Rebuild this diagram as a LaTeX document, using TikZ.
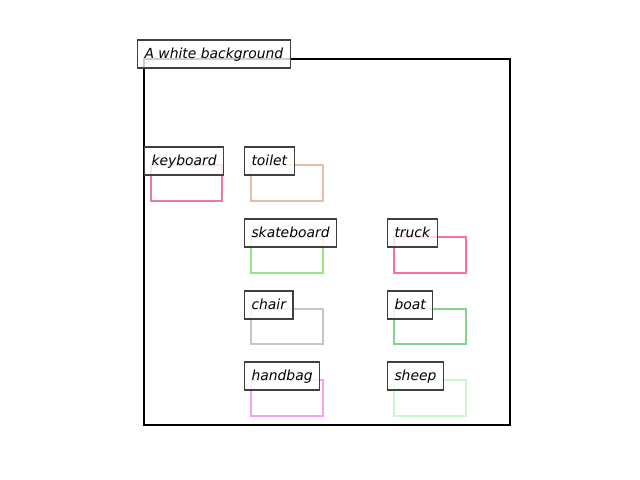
\documentclass[tikz,border=0pt]{standalone}
\usepackage{fontspec}
\setmainfont{DejaVu Sans}
\definecolor{kbcol}{HTML}{F07A9C}
\definecolor{tlcol}{HTML}{E8BEA6}
\definecolor{skcol}{HTML}{96E67E}
\definecolor{trcol}{HTML}{FF7094}
\definecolor{chcol}{HTML}{C2CAC2}
\definecolor{btcol}{HTML}{82D48A}
\definecolor{hbcol}{HTML}{F2A0F8}
\definecolor{shcol}{HTML}{CAF8CA}
\begin{document}
\begin{tikzpicture}[x=0.72pt,y=-0.72pt,
    tag/.style={draw=black!75,line width=0.8pt,fill=white,fill opacity=0.8,text opacity=1,
      anchor=south west,inner xsep=5pt,inner ysep=5pt,text height=8.3pt,text depth=1.8pt,
      font=\itshape\fontsize{10}{12}\selectfont},
    objbox/.style={line width=1.9pt}]
      \useasboundingbox (0,0) rectangle (640,480);
      \draw[line width=1.6pt] (144,59) rectangle (510,425);
      \begin{scope}[objbox]
        \draw[kbcol] (151,165) rectangle (222,201);
        \draw[tlcol] (251,165) rectangle (323,201);
        \draw[skcol] (251,237) rectangle (323,273);
        \draw[trcol] (394,237) rectangle (466,273);
        \draw[chcol] (251,309) rectangle (323,344);
        \draw[btcol] (394,309) rectangle (466,344);
        \draw[hbcol] (251,380) rectangle (323,416);
        \draw[shcol] (394,380) rectangle (466,416);
      \end{scope}
      \path
        (137,68.5) node[tag] (bg){A white background}
        (144,175.5) node[tag] (keyboard){keyboard}
        (244,175.5) node[tag] (toilet){toilet}
        (244,247.5) node[tag] (skateboard){skateboard}
        (387,247.5) node[tag] (truck){truck}
        (244,319.5) node[tag] (chair){chair}
        (387,319.5) node[tag] (boat){boat}
        (244,390.5) node[tag] (handbag){handbag}
        (387,390.5) node[tag] (sheep){sheep};
    \end{tikzpicture}
\end{document}
